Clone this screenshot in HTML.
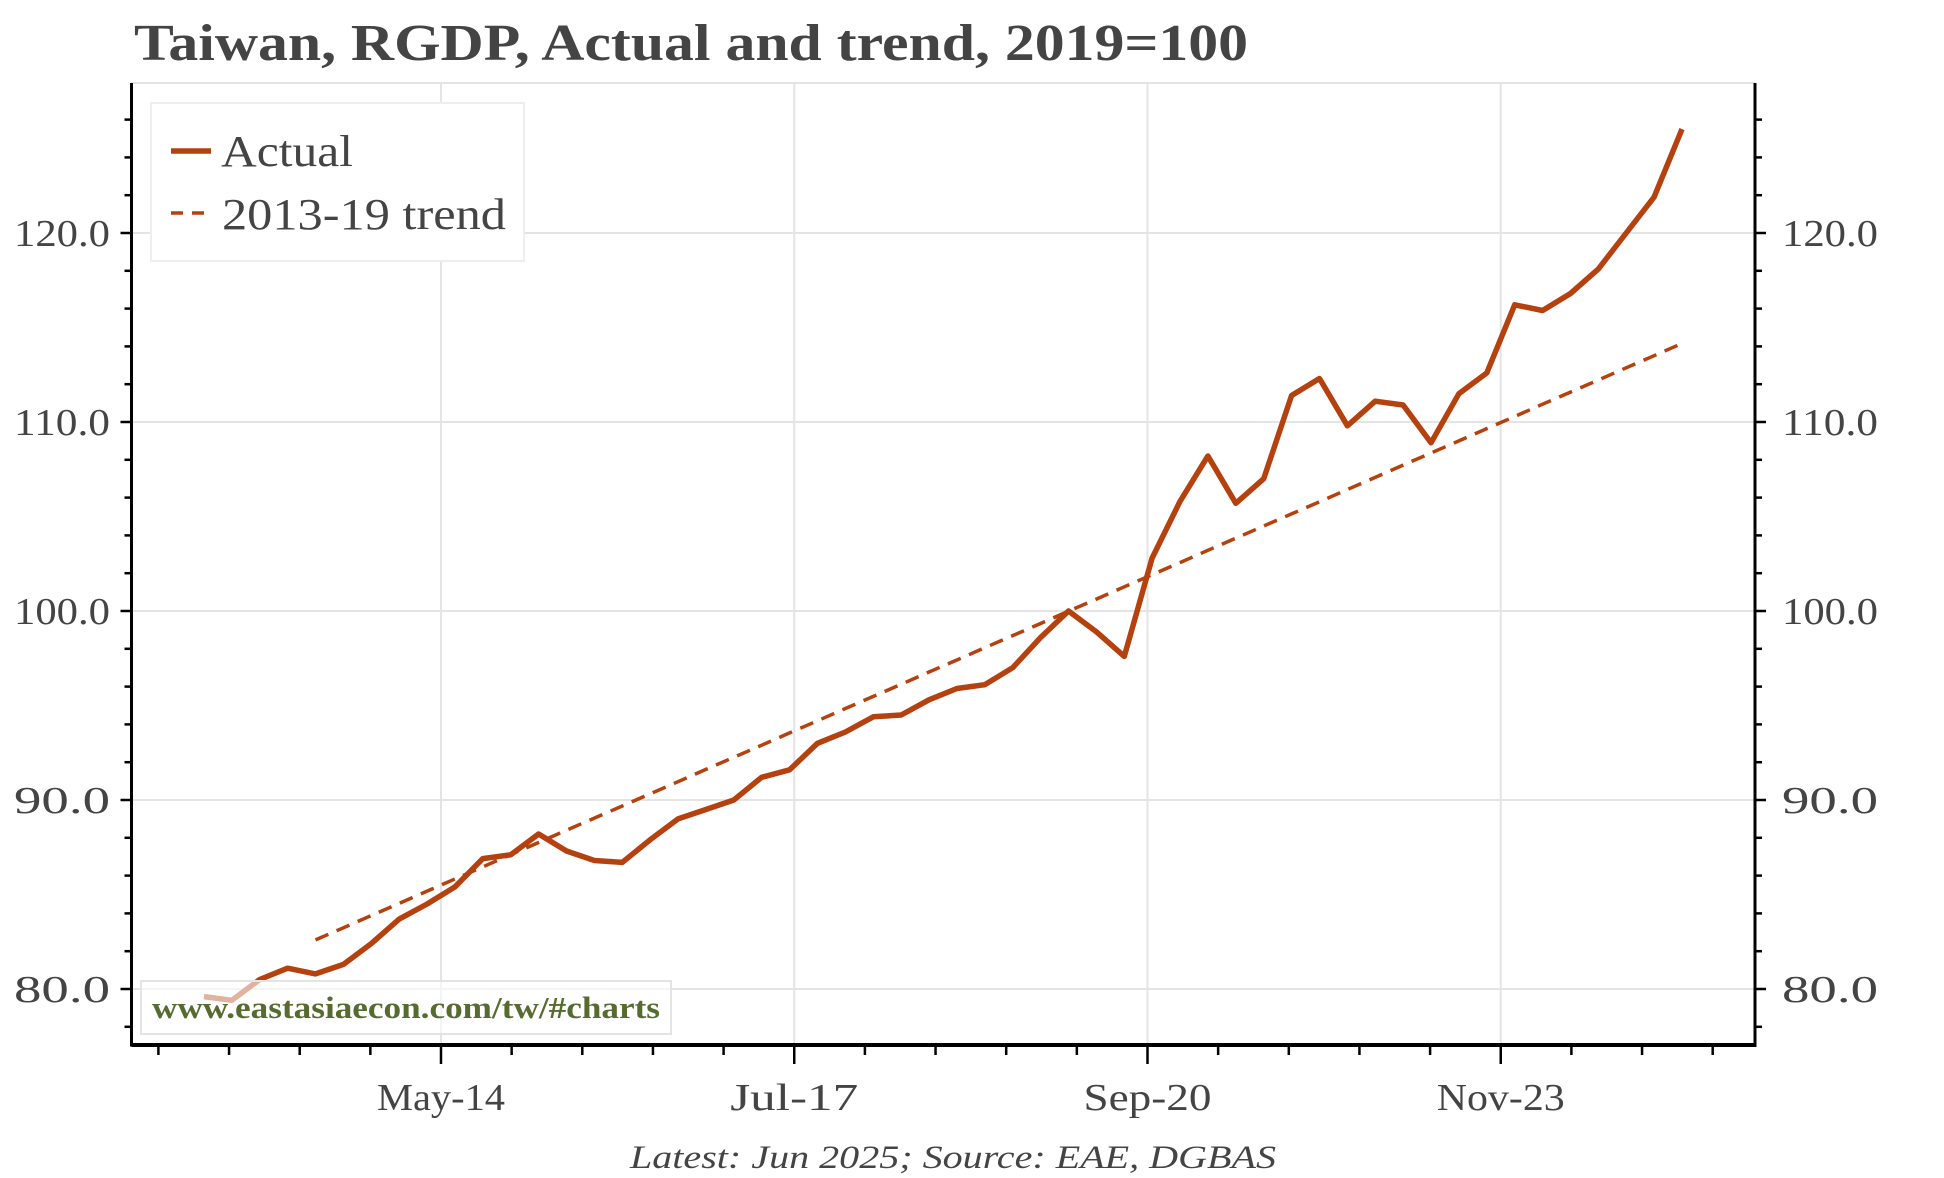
<!DOCTYPE html>
<html><head><meta charset="utf-8">
<style>
html,body{margin:0;padding:0;background:#fff;}
svg{display:block;}
text{font-family:"Liberation Serif",serif;fill:#444;}
</style></head>
<body>
<svg id="chart" width="1944" height="1178" viewBox="0 0 1944 1178" xmlns="http://www.w3.org/2000/svg">
<text x="134" y="60" font-size="52" font-weight="bold" textLength="1114" lengthAdjust="spacingAndGlyphs">Taiwan, RGDP, Actual and trend, 2019=100</text>
<g id="grid"></g>
<g id="axes"></g>
<g id="series"></g>
<rect x="141" y="981" width="530" height="53" fill="rgba(255,255,255,0.6)" stroke="#e4e4e4" stroke-width="2"/>
<text x="152" y="1018" font-size="31" font-weight="bold" style="fill:#556b2f" textLength="508" lengthAdjust="spacingAndGlyphs">www.eastasiaecon.com/tw/#charts</text>
<g>
<rect x="151" y="103" width="373" height="158" fill="#fff" stroke="#eee" stroke-width="2"/>
<line x1="171" y1="151" x2="211" y2="151" stroke="#b5410f" stroke-width="5.5"/>
<text x="221" y="166" font-size="44" textLength="132" lengthAdjust="spacingAndGlyphs">Actual</text>
<line x1="171" y1="213" x2="211" y2="213" stroke="#b5410f" stroke-width="3.5" stroke-dasharray="12,9"/>
<text x="222" y="229" font-size="44" textLength="284" lengthAdjust="spacingAndGlyphs">2013-19 trend</text>
</g>
<text x="953" y="1168" font-size="33" font-style="italic" text-anchor="middle" textLength="646" lengthAdjust="spacingAndGlyphs">Latest: Jun 2025; Source: EAE, DGBAS</text>
</svg>
<script>
// Quarterly data: 2012Q1 .. 2025Q2
const actualValues = [79.6,79.4,80.5,81.1,80.8,81.3,82.4,83.7,84.5,85.4,86.9,87.1,88.2,87.3,86.8,86.7,87.9,89.0,89.5,90.0,91.2,91.6,93.0,93.6,94.4,94.5,95.3,95.9,96.1,97.0,98.6,100.0,98.9,97.6,102.8,105.8,108.2,105.7,107.0,111.4,112.3,109.8,111.1,110.9,108.9,111.5,112.6,116.2,115.9,116.8,118.1,120.0,121.9,125.5];
// Trend: 2013Q1 .. 2025Q2
const trendValues = [82.6,83.24,83.89,84.53,85.18,85.82,86.46,87.11,87.75,88.40,89.04,89.68,90.33,90.97,91.62,92.26,92.90,93.55,94.19,94.84,95.48,96.12,96.77,97.41,98.06,98.70,99.34,99.99,100.63,101.28,101.92,102.56,103.21,103.85,104.50,105.14,105.78,106.43,107.07,107.72,108.36,109.00,109.65,110.29,110.94,111.58,112.22,112.87,113.51,114.16];
const actualStartQuarter = 0;   // 2012Q1
const trendStartQuarter = 4;    // 2013Q1
const yTickValues = [80,90,100,110,120];
const xTickLabels = ["May-14","Jul-17","Sep-20","Nov-23"];
const xTickMonths = [28,66,104,142]; // months since Jan 2012

const NS="http://www.w3.org/2000/svg";
const L=131.5,R=1755,T=83,B=1045;
function yPix(v){return 989-(v-80)*18.9;}
function xMonth(m){return 441+(m-28)*9.296;}
function xQ(q){return xMonth(2.5+3*q);}
function mk(tag,attrs,parent){const e=document.createElementNS(NS,tag);for(const k in attrs)e.setAttribute(k,attrs[k]);parent.appendChild(e);return e;}
const grid=document.getElementById('grid'),axes=document.getElementById('axes'),series=document.getElementById('series');

let tb=mk('line',{x1:L,y1:T,x2:R,y2:T,stroke:'#e4e4e4','stroke-width':2},grid);


yTickValues.forEach(v=>{
  const y=yPix(v);
  const g=mk('line',{x1:L,y1:y,x2:R,y2:y,stroke:'#e4e4e4','stroke-width':2},grid);
  
  
  const t1=mk('text',{x:110,y:y+13,'font-size':38,'text-anchor':'end',textLength:96,lengthAdjust:'spacingAndGlyphs'},axes);t1.textContent=v.toFixed(1);
  
  
  const t2=mk('text',{x:1782,y:y+13,'font-size':38,textLength:96,lengthAdjust:'spacingAndGlyphs'},axes);t2.textContent=v.toFixed(1);
  
  
});
xTickMonths.forEach((m,i)=>{
  const x=xMonth(m);
  const g=mk('line',{x1:x,y1:T,x2:x,y2:B,stroke:'#e4e4e4','stroke-width':2},grid);
  
  
  const t=mk('text',{x:x,y:1110,'font-size':38,'text-anchor':'middle',textLength:128,lengthAdjust:'spacingAndGlyphs'},axes);t.textContent=xTickLabels[i];
  
  
});
for(let v=78;v<=128;v+=2){
  const y=yPix(v); if(y<T-1||y>B)continue;
  const major=v%10===0, len=major?11:7;
  const a=mk('line',{x1:L-len,y1:y,x2:L,y2:y,stroke:'#000','stroke-width':2.5},axes);
  
  
  const b=mk('line',{x1:R,y1:y,x2:R+len,y2:y,stroke:'#000','stroke-width':2.5},axes);
  
  
}
for(let k=-4;k<=18;k++){
  const x=xMonth(28+k*7.6); if(x<L||x>R)continue;
  const major=k%5===0;
  const t=mk('line',{x1:x,y1:B,x2:x,y2:B+(major?19:10),stroke:'#000','stroke-width':2.5},axes);
  
  
}
let ax=mk('line',{x1:L,y1:T,x2:L,y2:B+1.5,stroke:'#000','stroke-width':3},axes);


ax=mk('line',{x1:R,y1:T,x2:R,y2:B+1.5,stroke:'#000','stroke-width':3},axes);


ax=mk('line',{x1:L,y1:B,x2:R+1.5,y2:B,stroke:'#000','stroke-width':4},axes);



const tp=trendValues.map((v,i)=>xQ(trendStartQuarter+i).toFixed(1)+','+yPix(v).toFixed(1)).join(' ');
const tl=mk('polyline',{points:tp,fill:'none',stroke:'#b5410f','stroke-width':3.5,'stroke-dasharray':'14,9'},series);


const ap=actualValues.map((v,i)=>xQ(actualStartQuarter+i).toFixed(1)+','+yPix(v).toFixed(1)).join(' ');
const al=mk('polyline',{points:ap,fill:'none',stroke:'#b5410f','stroke-width':5.5,'stroke-linejoin':'round'},series);


</script>
</body></html>
